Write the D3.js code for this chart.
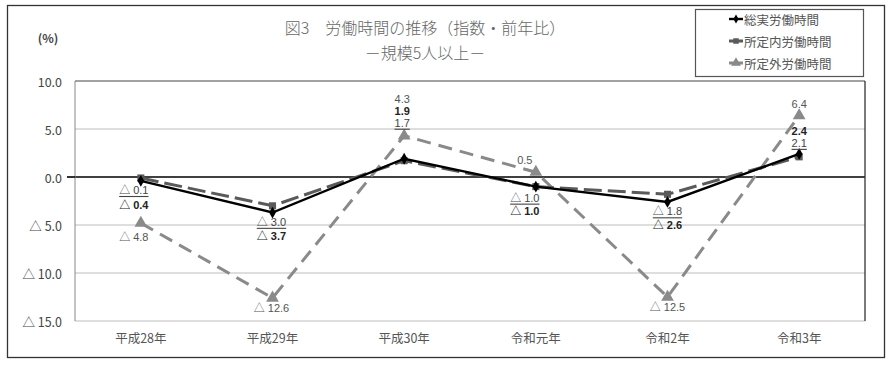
<!DOCTYPE html>
<html><head><meta charset="utf-8">
<script src="https://cdn.jsdelivr.net/npm/d3@7"></script>
<style>
body{margin:0;background:#fff;}
svg{display:block;font-family:"Noto Sans CJK JP","Noto Sans",sans-serif;}
</style></head>
<body><svg id="c" width="890" height="365"></svg>
<script>
const categories = ["平成28年","平成29年","平成30年","令和元年","令和2年","令和3年"];
const seriesNames = ["総実労働時間","所定内労働時間","所定外労働時間"];
const totalHours = [-0.4,-3.7,1.9,-1.0,-2.6,2.4];
const scheduledHours = [-0.1,-3.0,1.7,-1.0,-1.8,2.1];
const overtimeHours = [-4.8,-12.6,4.3,0.5,-12.5,6.4];
const yTicks = [10,5,0,-5,-10,-15];
// label offsets (px) relative to each point
const totalLabelDy = [24,23,-48,24,23,-23];
const scheduledLabelDy = [12,16,-38,11,17,-14];
const overtimeLabelDy = [14,10,-37,-12,10,-12];
const labelDx = [-7,-1,-2,-11,0,0];

const svg = d3.select("#c");
svg.append("rect").attr("x",7.5).attr("y",5.5).attr("width",877).attr("height",352)
  .attr("fill","none").attr("stroke","#333").attr("stroke-width",1.3);

const L=75,R=865,T=81,B=321;
const x = d3.scaleBand().domain(categories).range([L,R]);
const y = d3.scaleLinear().domain([-15,10]).range([B,T]);
const fmt = v => v<0 ? "△ "+d3.format(".1f")(-v) : d3.format(".1f")(v);

const g = svg.append("g");
g.selectAll("line.grid").data(yTicks).join("line")
  .attr("x1",L).attr("x2",R).attr("y1",d=>y(d)).attr("y2",d=>y(d))
  .attr("stroke",d=>d===0?"#000":(d===10?"#444":"#bdbdbd"))
  .attr("stroke-width",d=>d===0?1.6:1);
g.append("line").attr("x1",L).attr("x2",L).attr("y1",T).attr("y2",B).attr("stroke","#888");
g.append("line").attr("x1",R).attr("x2",R).attr("y1",T).attr("y2",B).attr("stroke","#333").attr("stroke-width",1.3);
g.append("line").attr("x1",L-8).attr("x2",L).attr("y1",y(0)).attr("y2",y(0)).attr("stroke","#000").attr("stroke-width",1.6);

g.selectAll("text.yt").data(yTicks).join("text")
  .attr("x",62).attr("y",d=>y(d)).attr("text-anchor","end").attr("dominant-baseline","central")
  .attr("font-size",12.5).attr("fill","#444")
  .text(fmt);
svg.append("text").attr("x",48).attr("y",37).attr("text-anchor","middle").attr("dominant-baseline","central")
  .attr("font-size",12).attr("font-weight","bold").attr("fill","#444").text("(%)");

g.selectAll("text.xt").data(categories).join("text")
  .attr("x",d=>x(d)+x.bandwidth()/2).attr("y",337).attr("text-anchor","middle").attr("dominant-baseline","central")
  .attr("font-size",12.5).attr("fill","#555").text(d=>d);

svg.append("text").attr("x",425).attr("y",27).attr("text-anchor","middle").attr("dominant-baseline","central")
  .attr("font-size",16).attr("font-weight",300).attr("fill","#666").text("図3　労働時間の推移（指数・前年比）");
svg.append("text").attr("x",425).attr("y",52).attr("text-anchor","middle").attr("dominant-baseline","central")
  .attr("font-size",16).attr("font-weight",300).attr("fill","#666").text("－規模5人以上－");

const cx = i => x(categories[i]) + x.bandwidth()/2;
const series = [
  {name:seriesNames[2], data:overtimeHours, color:"#8a8a8a", width:3, dash:"14,8", sym:d3.symbolTriangle, size:70, dy:overtimeLabelDy, lc:"#555", weight:"normal", ul:false},
  {name:seriesNames[1], data:scheduledHours, color:"#5a5a5a", width:3, dash:"18,6", sym:d3.symbolSquare, size:50, dy:scheduledLabelDy, lc:"#444", weight:"normal", ul:true},
  {name:seriesNames[0], data:totalHours, color:"#000", width:2.4, dash:null, sym:d3.symbolDiamond, size:40, dy:totalLabelDy, lc:"#222", weight:"bold", ul:false}
];
const line = d3.line().x((d,i)=>cx(i)).y(d=>y(d));
series.forEach(s=>{
  svg.append("path").datum(s.data).attr("d",line).attr("fill","none")
    .attr("stroke",s.color).attr("stroke-width",s.width).attr("stroke-dasharray",s.dash);
  svg.selectAll(null).data(s.data).join("path")
    .attr("transform",(d,i)=>`translate(${cx(i)},${y(d)})`)
    .attr("d",d3.symbol().type(s.sym).size(s.size)).attr("fill",s.color);
});
series.forEach(s=>{
  svg.selectAll(null).data(s.data).join("text")
    .attr("x",(d,i)=>cx(i)+labelDx[i]).attr("y",(d,i)=>y(d)+s.dy[i])
    .attr("text-anchor","middle").attr("dominant-baseline","central")
    .attr("font-family","'Liberation Sans','Noto Sans CJK JP',sans-serif")
    .attr("font-size",11).attr("font-weight",s.weight).attr("fill",s.lc)
    .attr("text-decoration",s.ul?"underline":null)
    .text(fmt);
});

const lg = svg.append("g");
lg.append("rect").attr("x",695.5).attr("y",9.5).attr("width",168).attr("height",67)
  .attr("fill","#fff").attr("stroke","#555").attr("stroke-width",1.2);
[series[2],series[1],series[0]].forEach((s,i)=>{
  const yy = 19 + i*22;
  lg.append("line").attr("x1",729).attr("x2",743).attr("y1",yy).attr("y2",yy)
    .attr("stroke",s.color).attr("stroke-width",s.width);
  lg.append("path").attr("transform",`translate(736,${yy})`)
    .attr("d",d3.symbol().type(s.sym).size(s.size*0.6)).attr("fill",s.color);
  lg.append("text").attr("x",744).attr("y",yy).attr("dominant-baseline","central")
    .attr("font-size",12.5).attr("fill","#555").text(s.name);
});
</script></body></html>
